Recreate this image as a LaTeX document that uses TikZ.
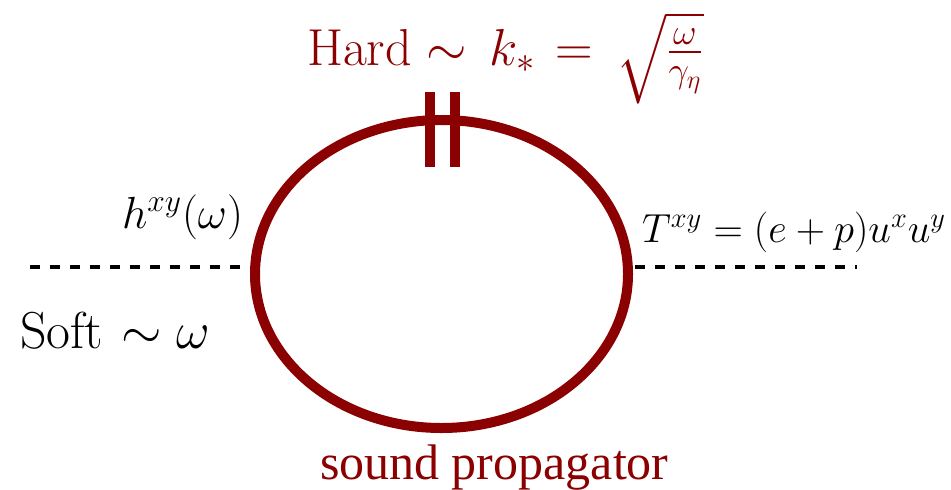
\RequirePackage{fix-cm}
\documentclass[tikz,border=0pt]{standalone}
\usepackage{exscale}
\usepackage{fontspec}
\newfontfamily\timesfont{Liberation Serif}
\usetikzlibrary{shapes.geometric}
\definecolor{dred}{RGB}{139,0,0}
\tikzset{
  loopline/.style={draw=dred, line width=5pt, ellipse, inner sep=0pt, outer sep=0pt},
  cutbar/.style={draw=dred, line width=5pt, line cap=butt},
  extline/.style={draw=black, line width=1.9pt, dash pattern=on 5pt off 5pt},
  lbl/.style={inner sep=0pt, outer sep=0pt, anchor=base west},
}
\begin{document}
\begin{tikzpicture}[x=0.5pt,y=-0.5pt]
\useasboundingbox (0,0) rectangle (951,489);
% sound loop
\node[loopline, minimum width=186.5pt, minimum height=154pt] (loop) at (441.5,274) {};
% cut marks
\coordinate (c1t) at (430,92); \coordinate (c1b) at (430,167);
\coordinate (c2t) at (455,92); \coordinate (c2b) at (455,167);
\draw[cutbar] (c1t) -- (c1b);
\draw[cutbar] (c2t) -- (c2b);
% external legs
\coordinate (la) at (30,267); \coordinate (lb) at (243,267);
\coordinate (ra) at (635,267); \coordinate (rb) at (857,267);
\draw[extline] (la) -- (lb);
\draw[extline] (ra) -- (rb);
% labels
\node[lbl, text=dred, font=\fontsize{26pt}{31pt}\selectfont] (hard) at (307,65)
  {$\mathrm{Hard}\sim\mkern3mu k_*\mkern2mu=\mkern3mu\sqrt{\rule[-19.5pt]{0pt}{42.5pt}\frac{\omega}{\gamma_\eta}}$};
\node[lbl, font=\fontsize{26pt}{31pt}\selectfont] (soft) at (20,348)
  {Soft\hspace{9pt}$\sim\omega$};
\node[lbl, font=\fontsize{22.5pt}{27pt}\selectfont] (hlab) at (122,228)
  {$h^{xy}(\omega)$};
\node[lbl, font=\fontsize{20.3pt}{24pt}\selectfont] (tlab) at (642,242)
  {$T^{xy}=(e+p)u^xu^y$};
\node[lbl, text=dred, font=\timesfont\fontsize{25pt}{30pt}\selectfont] (prop) at (320,479)
  {sound propagator};
\end{tikzpicture}
\end{document}
